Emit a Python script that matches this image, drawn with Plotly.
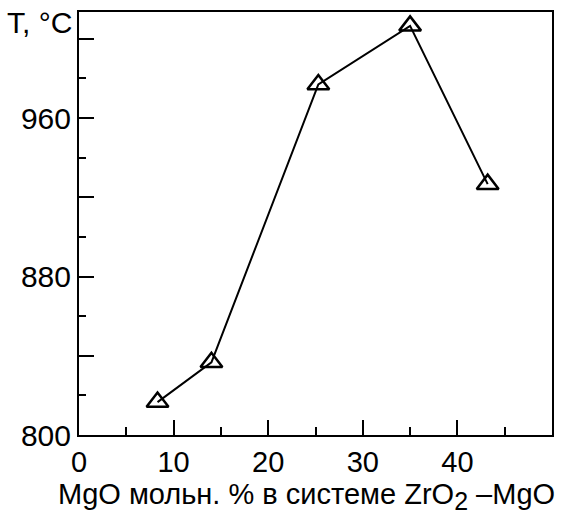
import plotly.graph_objects as go

mgo = [8.3, 14.0, 25.3, 35.0, 43.2]
temp = [816.6, 836.7, 976.9, 1006.5, 926.6]

x_tickvals = [0, 10, 20, 30, 40, 50]
x_ticktext = ["0", "10", "20", "30", "40", " "]
y_tickvals = [800, 840, 880, 920, 960, 1000]
y_ticktext = ["800", " ", "880", " ", "960", " "]

FONT = "Liberation Sans, Arial, sans-serif"

fig = go.Figure()
fig.add_trace(go.Scatter(
    x=mgo, y=temp, mode="lines+markers",
    line=dict(color="black", width=2),
    marker=dict(symbol="triangle-up-open", size=19, color="black",
                line=dict(color="black", width=2.5)),
    showlegend=False,
))

fig.update_layout(
    width=566, height=515,
    margin=dict(l=79, r=14, t=10, b=80),
    plot_bgcolor="white", paper_bgcolor="white",
    font=dict(family=FONT, size=29, color="black"),
    xaxis=dict(
        range=[0, 50], tickvals=x_tickvals, ticktext=x_ticktext,
        ticks="inside", ticklen=15, tickwidth=1.5, tickcolor="black",
        minor=dict(dtick=5, ticks="inside", ticklen=8, tickwidth=1.5, tickcolor="black"),
        showline=True, linecolor="black", linewidth=2, mirror=True,
        showgrid=False, zeroline=False,
        tickfont=dict(size=29),
    ),
    yaxis=dict(
        range=[800, 1013.5], tickvals=y_tickvals, ticktext=y_ticktext,
        ticks="inside", ticklen=15, tickwidth=1.5, tickcolor="black",
        minor=dict(dtick=20, ticks="inside", ticklen=7, tickwidth=1.5, tickcolor="black"),
        showline=True, linecolor="black", linewidth=2, mirror=True,
        showgrid=False, zeroline=False,
        tickfont=dict(size=30),
    ),
    annotations=[
        dict(
            text="T, °C", xref="paper", yref="paper", x=0, y=1.0,
            xanchor="right", yanchor="top", xshift=-5, yshift=8,
            showarrow=False, font=dict(size=30, family=FONT),
        ),
        dict(
            text='MgO мольн. % в системе ZrO<sub><span style="font-size:25px">2</span></sub> –MgO',
            xref="paper", yref="paper", x=0.48, y=0,
            xanchor="center", yanchor="top", yshift=-41,
            showarrow=False, font=dict(size=29, family=FONT),
        ),
    ],
)

fig.write_html("out.html")
